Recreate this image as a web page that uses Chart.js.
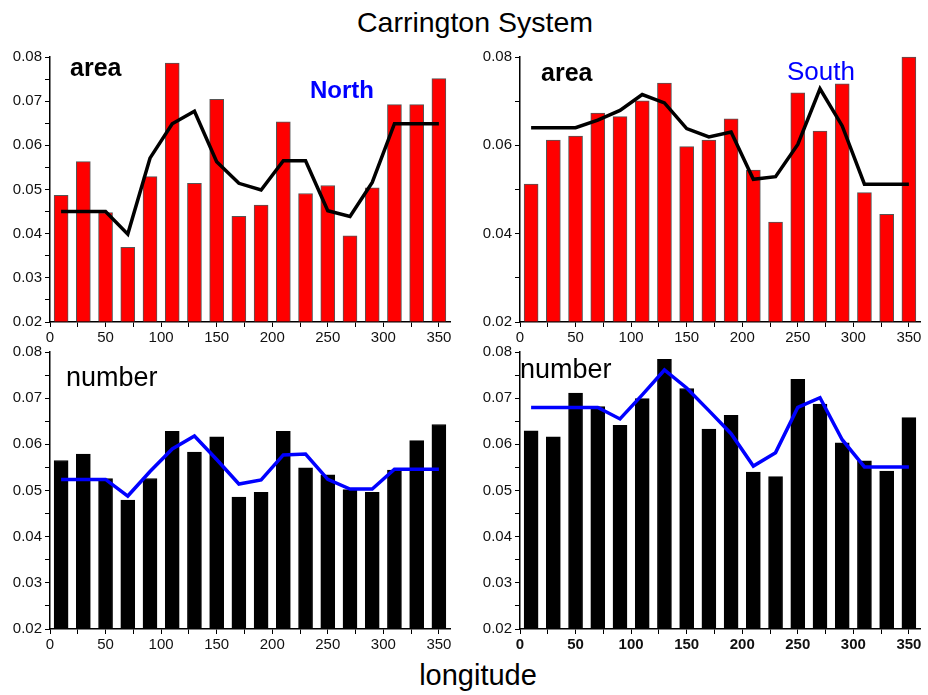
<!DOCTYPE html>
<html>
<head>
<meta charset="utf-8">
<script src="https://cdn.jsdelivr.net/npm/chart.js@4/dist/chart.umd.min.js"></script>
<style>
  body { margin: 0; background: #fff; width: 928px; height: 695px; position: relative; overflow: hidden;
         font-family: "Liberation Sans", Arial, sans-serif; }
  .panel { position: absolute; }
  .txt { position: absolute; white-space: nowrap; line-height: 1; }
</style>
</head>
<body>
<div class="txt" id="title" style="left:0;width:950px;text-align:center;top:8px;font-size:28.5px;color:#000;">Carrington System</div>
<div class="txt" style="left:0;width:956px;text-align:center;top:661px;font-size:29px;color:#000;">longitude</div>

<div class="panel" style="left:0;top:45px;"><canvas id="c1" width="458" height="300"></canvas></div>
<div class="panel" style="left:470px;top:45px;"><canvas id="c2" width="458" height="300"></canvas></div>
<div class="panel" style="left:0;top:340px;"><canvas id="c3" width="458" height="312"></canvas></div>
<div class="panel" style="left:470px;top:340px;"><canvas id="c4" width="458" height="312"></canvas></div>

<div class="txt" style="left:70px;top:55px;font-size:25px;font-weight:bold;">area</div>
<div class="txt" style="left:310px;top:78px;font-size:24px;font-weight:bold;color:#0000ff;">North</div>
<div class="txt" style="left:541px;top:60px;font-size:25px;font-weight:bold;">area</div>
<div class="txt" style="left:787px;top:58px;font-size:26px;color:#0000ff;">South</div>
<div class="txt" style="left:66px;top:364px;font-size:27px;">number</div>
<div class="txt" style="left:520px;top:356px;font-size:27px;">number</div>

<script>
// longitude bins (degrees)
const longitudes = [10, 30, 50, 70, 90, 110, 130, 150, 170, 190, 210, 230, 250, 270, 290, 310, 330, 350];

// North, area
const northAreaBars = [0.0487, 0.0563, 0.0448, 0.0369, 0.0529, 0.0786, 0.0514, 0.0704, 0.0439,
                       0.0465, 0.0653, 0.0491, 0.0509, 0.0395, 0.0504, 0.0692, 0.0692, 0.0751];
const northAreaLine = [0.0450, 0.0450, 0.0450, 0.0399, 0.0571, 0.0649, 0.0677, 0.0563, 0.0514,
                       0.0499, 0.0565, 0.0565, 0.0452, 0.0439, 0.0516, 0.0649, 0.0649, 0.0649];

// South, area
const southAreaBars = [0.0512, 0.0612, 0.0621, 0.0673, 0.0665, 0.0701, 0.0741, 0.0597, 0.0612,
                       0.0660, 0.0544, 0.0426, 0.0719, 0.0632, 0.0739, 0.0493, 0.0444, 0.0800];
const southAreaLine = [0.0640, 0.0640, 0.0640, 0.0657, 0.0679, 0.0715, 0.0696, 0.0638, 0.0619,
                       0.0630, 0.0523, 0.0529, 0.0602, 0.0728, 0.0644, 0.0512, 0.0512, 0.0512];

// North, number
const northNumberBars = [0.0565, 0.0579, 0.0526, 0.0479, 0.0526, 0.0628, 0.0583, 0.0616, 0.0486,
                         0.0496, 0.0628, 0.0549, 0.0534, 0.0502, 0.0496, 0.0544, 0.0608, 0.0643];
const northNumberLine = [0.0524, 0.0524, 0.0524, 0.0488, 0.0541, 0.0590, 0.0618, 0.0567, 0.0514,
                         0.0523, 0.0577, 0.0579, 0.0524, 0.0503, 0.0503, 0.0546, 0.0546, 0.0546];

// South, number
const southNumberBars = [0.0629, 0.0616, 0.0711, 0.0682, 0.0641, 0.0699, 0.0784, 0.0721, 0.0633,
                         0.0663, 0.0540, 0.0530, 0.0741, 0.0687, 0.0603, 0.0564, 0.0542, 0.0658];
const southNumberLine = [0.0680, 0.0680, 0.0680, 0.0680, 0.0655, 0.0707, 0.0761, 0.0722, 0.0673,
                         0.0623, 0.0553, 0.0582, 0.0680, 0.0701, 0.0610, 0.0551, 0.0551, 0.0551];

const FONT = '"Liberation Sans", Arial, sans-serif';
Chart.defaults.color = '#111';
Chart.defaults.font.family = FONT;

function points(values) {
  return longitudes.map((x, i) => ({ x: x, y: values[i] }));
}

function makePanel(id, bars, line, opts) {
  return new Chart(document.getElementById(id), {
    type: 'bar',
    data: {
      datasets: [
        {
          type: 'line',
          data: points(line),
          borderColor: opts.lineColor,
          borderWidth: 3.5,
          pointRadius: 0,
          tension: 0,
          order: 0
        },
        {
          type: 'bar',
          data: points(bars),
          base: 0.02,
          backgroundColor: opts.barColor,
          borderColor: opts.barEdge,
          borderWidth: 1,
          borderSkipped: 'start',
          barThickness: 14,
          clip: 2,
          order: 1
        }
      ]
    },
    options: {
      responsive: false,
      animation: false,
      devicePixelRatio: 1,
      layout: { padding: { top: 10, right: 8, left: 0, bottom: 0 } },
      plugins: { legend: { display: false }, tooltip: { enabled: false } },
      scales: {
        x: {
          type: 'linear',
          min: 0,
          max: 360,
          offset: false,
          afterFit: s => { s.height = 23; },
          border: { color: '#000', width: 1.5 },
          grid: { drawOnChartArea: false, offset: false, color: '#000', tickLength: 5 },
          ticks: {
            stepSize: 25,
            includeBounds: false,
            autoSkip: false,
            maxRotation: 0,
            padding: 2,
            color: '#111',
            font: { size: 15, weight: opts.xBold ? 'bold' : 'normal' },
            callback: v => (v % 50 === 0 ? String(v) : '')
          }
        },
        y: {
          min: 0.02,
          max: 0.08,
          afterFit: s => { s.width = 50; },
          border: { color: '#000', width: 1.5 },
          grid: { drawOnChartArea: false, color: '#000', tickLength: 5 },
          ticks: {
            stepSize: opts.yStep,
            autoSkip: false,
            padding: 3,
            color: '#111',
            font: { size: 15 },
            callback: v => {
              const k = Math.round(v * 1000);
              return k % opts.yLabelEvery === 0 ? v.toFixed(2) : '';
            }
          }
        }
      }
    }
  });
}

makePanel('c1', northAreaBars, northAreaLine,
  { barColor: '#ff0000', barEdge: '#555', lineColor: '#000', yStep: 0.005, yLabelEvery: 10 });
makePanel('c2', southAreaBars, southAreaLine,
  { barColor: '#ff0000', barEdge: '#555', lineColor: '#000', yStep: 0.01, yLabelEvery: 20 });
makePanel('c3', northNumberBars, northNumberLine,
  { barColor: '#000', barEdge: '#000', lineColor: '#0000ff', yStep: 0.005, yLabelEvery: 10 });
makePanel('c4', southNumberBars, southNumberLine,
  { barColor: '#000', barEdge: '#000', lineColor: '#0000ff', yStep: 0.005, yLabelEvery: 10, xBold: true });
</script>
</body>
</html>
